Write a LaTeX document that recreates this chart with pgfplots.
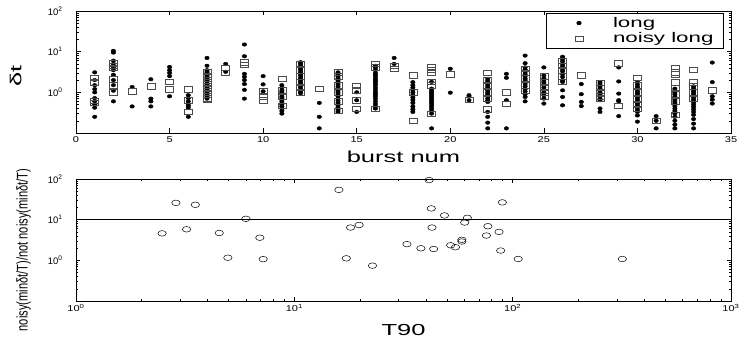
\documentclass[border=0pt]{standalone}
\usepackage{fontspec}
\setmainfont{Liberation Sans}
\newfontfamily\wideA[FakeStretch=1.6]{Liberation Sans}
\newfontfamily\wideB[FakeStretch=1.3]{Liberation Sans}
\usepackage{graphicx}
\usepackage{pgfplots}
\pgfplotsset{compat=1.18}
\begin{document}
\begin{tikzpicture}
\path[use as bounding box] (0,0) rectangle (747bp,339bp);
\pgfplotsset{
 common/.style={scale only axis, width=655bp, height=122bp, anchor=south west,
  axis line style={line width=0.6pt}, tick style={black, line width=0.5pt},
  major tick length=4.5bp, minor tick length=2.5bp,
  xticklabel style={font=\wideB\fontsize{8.5}{10}\selectfont},
  yticklabel style={font=\fontsize{9.5}{11}\selectfont, xshift=-10bp},
 },
 dots/.style={only marks, mark=*, mark size=1.8bp, mark options={xscale=1.25, fill=black, draw=black}},
 boxes/.style={only marks, mark=square, mark size=2.7bp, mark options={xscale=1.5, draw=black!70, fill=none, line width=0.55pt}},
}
\begin{axis}[common, at={(76bp,206bp)},
  xmin=0, xmax=35, ymode=log, ymin=0.1, ymax=100,
  xtick={0,5,10,15,20,25,30,35}, xticklabels={0,5,10,15,20,25,30,35},
  ytick={0.1,1,10,100}, yticklabels={,10\textsuperscript{0},10\textsuperscript{1},10\textsuperscript{2}},
  xlabel={burst num}, xlabel style={font=\wideA\fontsize{16}{18}\selectfont, at={(axis description cs:0.5,-0.197)}, anchor=center},
  ylabel={δt}, ylabel style={font=\wideA\fontsize{16}{18}\selectfont, at={(axis description cs:-0.092,0.467)}, anchor=center},
  legend style={at={(rel axis cs:0.989,0.984)}, anchor=north east, font=\wideA\fontsize{14}{15}\selectfont, draw=black, line width=0.6pt, inner xsep=8bp, inner ysep=2bp, row sep=0bp, cells={anchor=west}},
  legend image code/.code={\path[draw=none] (0bp,0bp) -- (57bp,0bp); \path[draw=none] plot[#1, only marks] coordinates {(25bp,0bp)};},
]
\addplot[dots] coordinates {
(1,3.1) (1,2.0) (1,1.5) (1,1.2) (1,1.0) (1,0.72) (1,0.6) (1,0.5) (1,0.42) (1,0.25)
(2,10.5) (2,9.5) (2,6.0) (2,5.0) (2,4.2) (2,3.5) (2,2.7) (2,2.0) (2,1.5) (2,1.1) (2,0.6)
(3,1.35) (3,0.45)
(4,2.1) (4,0.7) (4,0.6) (4,0.45)
(5,4.2) (5,3.5) (5,3.0) (5,2.5) (5,0.8)
(6,0.85) (6,0.72) (6,0.6) (6,0.52) (6,0.47) (6,0.42) (6,0.25)
(7,7.0) (7,4.5) (7,3.5) (7,3.2) (7,3.0) (7,2.8) (7,2.6) (7,2.4) (7,2.2) (7,2.0) (7,1.9) (7,1.8) (7,1.6) (7,1.5) (7,1.4) (7,1.3) (7,1.2) (7,1.1) (7,1.0) (7,0.9) (7,0.8) (7,0.7)
(8,5.0) (8,3.2)
(9,15) (9,7.7) (9,2.85) (9,2.4) (9,2.0) (9,1.6) (9,1.15) (9,0.7)
(10,2.5) (10,1.57) (10,1.06)
(11,1.5) (11,1.3) (11,1.1) (11,1.0) (11,0.9) (11,0.8) (11,0.72) (11,0.65) (11,0.58) (11,0.5) (11,0.45) (11,0.4) (11,0.35) (11,0.3)
(12,5.5) (12,5) (12,4.5) (12,4) (12,3.6) (12,3.2) (12,2.9) (12,2.6) (12,2.3) (12,2.1) (12,1.9) (12,1.7) (12,1.5) (12,1.35) (12,1.2) (12,1.1) (12,1.0) (12,0.95)
(13,0.55) (13,0.25) (13,0.13)
(14,3.1) (14,2.8) (14,2.5) (14,2.2) (14,2.0) (14,1.8) (14,1.6) (14,1.4) (14,1.25) (14,1.1) (14,1.0) (14,0.9) (14,0.8) (14,0.7) (14,0.62) (14,0.55) (14,0.48) (14,0.42) (14,0.37) (14,0.33)
(15,1.0) (15,0.64) (15,0.33)
(16,4.5) (16,4.0) (16,3.5) (16,3.0) (16,2.7) (16,2.4) (16,2.1) (16,1.9) (16,1.7) (16,1.5) (16,1.3) (16,1.15) (16,1.0) (16,0.9) (16,0.8) (16,0.7) (16,0.6) (16,0.52) (16,0.45) (16,0.4)
(17,7.0) (17,5.0)
(18,1.78) (18,1.5) (18,1.3) (18,1.15) (18,1.0) (18,0.85) (18,0.75) (18,0.65) (18,0.55) (18,0.45) (18,0.38) (18,0.33)
(19,1.8) (19,1.23) (19,1.1) (19,1.0) (19,0.9) (19,0.8) (19,0.72) (19,0.65) (19,0.58) (19,0.52) (19,0.46) (19,0.4) (19,0.35) (19,0.3) (19,0.13)
(20,3.8) (20,0.98)
(21,0.85) (21,0.8) (21,0.64)
(22,2.15) (22,1.9) (22,1.7) (22,1.5) (22,1.35) (22,1.2) (22,1.1) (22,1.0) (22,0.9) (22,0.8) (22,0.7) (22,0.62) (22,0.58) (22,0.33) (22,0.25) (22,0.18) (22,0.13)
(23,2.85) (23,2.28) (23,0.64) (23,0.13)
(24,8.0) (24,5.2) (24,4.1) (24,3.6) (24,3.2) (24,2.8) (24,2.5) (24,2.2) (24,2.0) (24,1.8) (24,1.6) (24,1.4) (24,1.2) (24,1.05) (24,0.9) (24,0.77) (24,0.6)
(25,4.1) (25,2.6) (25,2.2) (25,1.9) (25,1.7) (25,1.5) (25,1.3) (25,1.15) (25,1.0) (25,0.85) (25,0.7) (25,0.53)
(26,7.5) (26,6.6) (26,5.8) (26,5.0) (26,4.4) (26,3.8) (26,3.3) (26,2.8) (26,2.4) (26,2.0) (26,1.8) (26,1.12) (26,0.77) (26,0.48)
(27,1.6) (27,0.9) (27,0.58) (27,0.46)
(28,1.78) (28,1.6) (28,1.4) (28,1.25) (28,1.1) (28,1.0) (28,0.9) (28,0.8) (28,0.7) (28,0.64) (28,0.4) (28,0.33)
(29,4.1) (29,1.85) (29,0.93) (29,0.64) (29,0.6) (29,0.26)
(30,1.78) (30,1.55) (30,1.35) (30,1.2) (30,1.05) (30,0.95) (30,0.85) (30,0.75) (30,0.67) (30,0.6) (30,0.53) (30,0.47) (30,0.42) (30,0.37) (30,0.33) (30,0.27) (30,0.19)
(31,0.26) (31,0.2) (31,0.13)
(32,1.23) (32,1.1) (32,1.0) (32,0.9) (32,0.8) (32,0.72) (32,0.65) (32,0.58) (32,0.52) (32,0.46) (32,0.4) (32,0.35) (32,0.3) (32,0.25) (32,0.2) (32,0.16) (32,0.13)
(33,1.4) (33,1.25) (33,1.1) (33,1.0) (33,0.9) (33,0.8) (33,0.72) (33,0.64) (33,0.57) (33,0.5) (33,0.44) (33,0.38) (33,0.33) (33,0.28) (33,0.22) (33,0.17) (33,0.13)
(34,5.4) (34,1.78) (34,0.8) (34,0.66) (34,0.53)
};
\addlegendentry{long}
\addplot[boxes] coordinates {
(1,2.3) (1,1.75) (1,0.62) (1,0.55)
(2,5.2) (2,4.5) (2,4.0) (2,2.1) (2,1.5) (2,1.0)
(3,1.05)
(4,1.4)
(5,1.8) (5,1.2)
(6,1.2) (6,0.64) (6,0.33)
(7,3.2) (7,2.5) (7,2.0) (7,1.6) (7,1.3) (7,1.1) (7,0.9) (7,0.72) (7,0.65)
(8,4.0) (8,3.0)
(9,5.5) (9,4.8)
(10,1.06) (10,0.8) (10,0.64)
(11,2.16) (11,1.12) (11,0.77) (11,0.46)
(12,5.0) (12,3.5) (12,2.5) (12,1.8) (12,1.3) (12,1.0)
(13,1.23)
(14,3.1) (14,2.5) (14,1.5) (14,1.0) (14,0.6) (14,0.35)
(15,1.43) (15,1.12) (15,0.64) (15,0.4)
(16,5.0) (16,4.1) (16,0.4)
(17,4.55) (17,3.8)
(18,2.6) (18,1.0) (18,0.2)
(19,4.1) (19,3.6) (19,3.1) (19,1.8) (19,1.5) (19,0.3)
(20,2.75)
(21,0.66)
(22,3.0) (22,2.0) (22,1.5) (22,1.0) (22,0.7) (22,0.38)
(23,1.0) (23,0.53)
(24,3.8) (24,3.0) (24,2.2) (24,1.5) (24,1.1)
(25,2.5) (25,1.8) (25,1.3) (25,1.0) (25,0.8)
(26,6.0) (26,4.5) (26,3.5) (26,2.5) (26,1.8)
(27,2.6)
(28,1.7) (28,1.3) (28,1.0) (28,0.8) (28,0.7)
(29,5.2) (29,0.46)
(30,2.28) (30,1.5) (30,1.0) (30,0.7) (30,0.5) (30,0.4)
(31,0.2)
(32,3.9) (32,3.1) (32,2.75) (32,1.78) (32,1.3) (32,0.9) (32,0.6) (32,0.28)
(33,3.6) (33,1.78) (33,1.4) (33,1.0) (33,0.7)
(34,1.12)
};
\addlegendentry{noisy long}
\end{axis}
\begin{axis}[common, at={(76bp,38bp)},
  xmode=log, ymode=log, xmin=1, xmax=1000, ymin=0.1, ymax=100,
  xtick={1,10,100,1000}, xticklabels={10\textsuperscript{0},10\textsuperscript{1},10\textsuperscript{2},10\textsuperscript{3}},
  ytick={0.1,1,10,100}, yticklabels={,10\textsuperscript{0},10\textsuperscript{1},10\textsuperscript{2}},
  xlabel={T90}, xlabel style={font=\wideA\fontsize{16}{18}\selectfont, at={(axis description cs:0.5,-0.238)}, anchor=center},
  ylabel={\scalebox{0.72}[1]{noisy(minδt/T)/not noisy(minδt/T)}}, ylabel style={font=\fontsize{15.5}{17}\selectfont, at={(axis description cs:-0.08,0.418)}, anchor=center},
]
\addplot[black, line width=0.5pt] coordinates {(1,10) (1000,10)};
\addplot[only marks, mark=o, mark size=2.8bp, mark options={xscale=1.5, line width=0.5pt, draw=black}] coordinates {
(2.48,4.6) (2.87,25.9) (3.21,5.8) (3.52,23.2) (4.53,4.7) (4.96,1.16) (6.0,10.5) (6.95,3.6) (7.2,1.07)
(16.0,54) (17.3,1.12) (18.1,6.4) (19.8,7.4) (22.8,0.74) (32.8,2.5) (38.0,1.98) (41.4,94) (42.4,18.9)
(42.7,6.4) (43.5,1.9) (48.7,12.7) (52,2.35) (54.7,2.1) (58.5,3.2) (58.5,2.9) (60.3,8.5) (62,11.1)
(77,6.9) (75.8,4.07) (89.7,26.6) (86.6,5.0) (88.1,1.74) (106,1.08) (318,1.08)
};
\end{axis}
\end{tikzpicture}
\end{document}
